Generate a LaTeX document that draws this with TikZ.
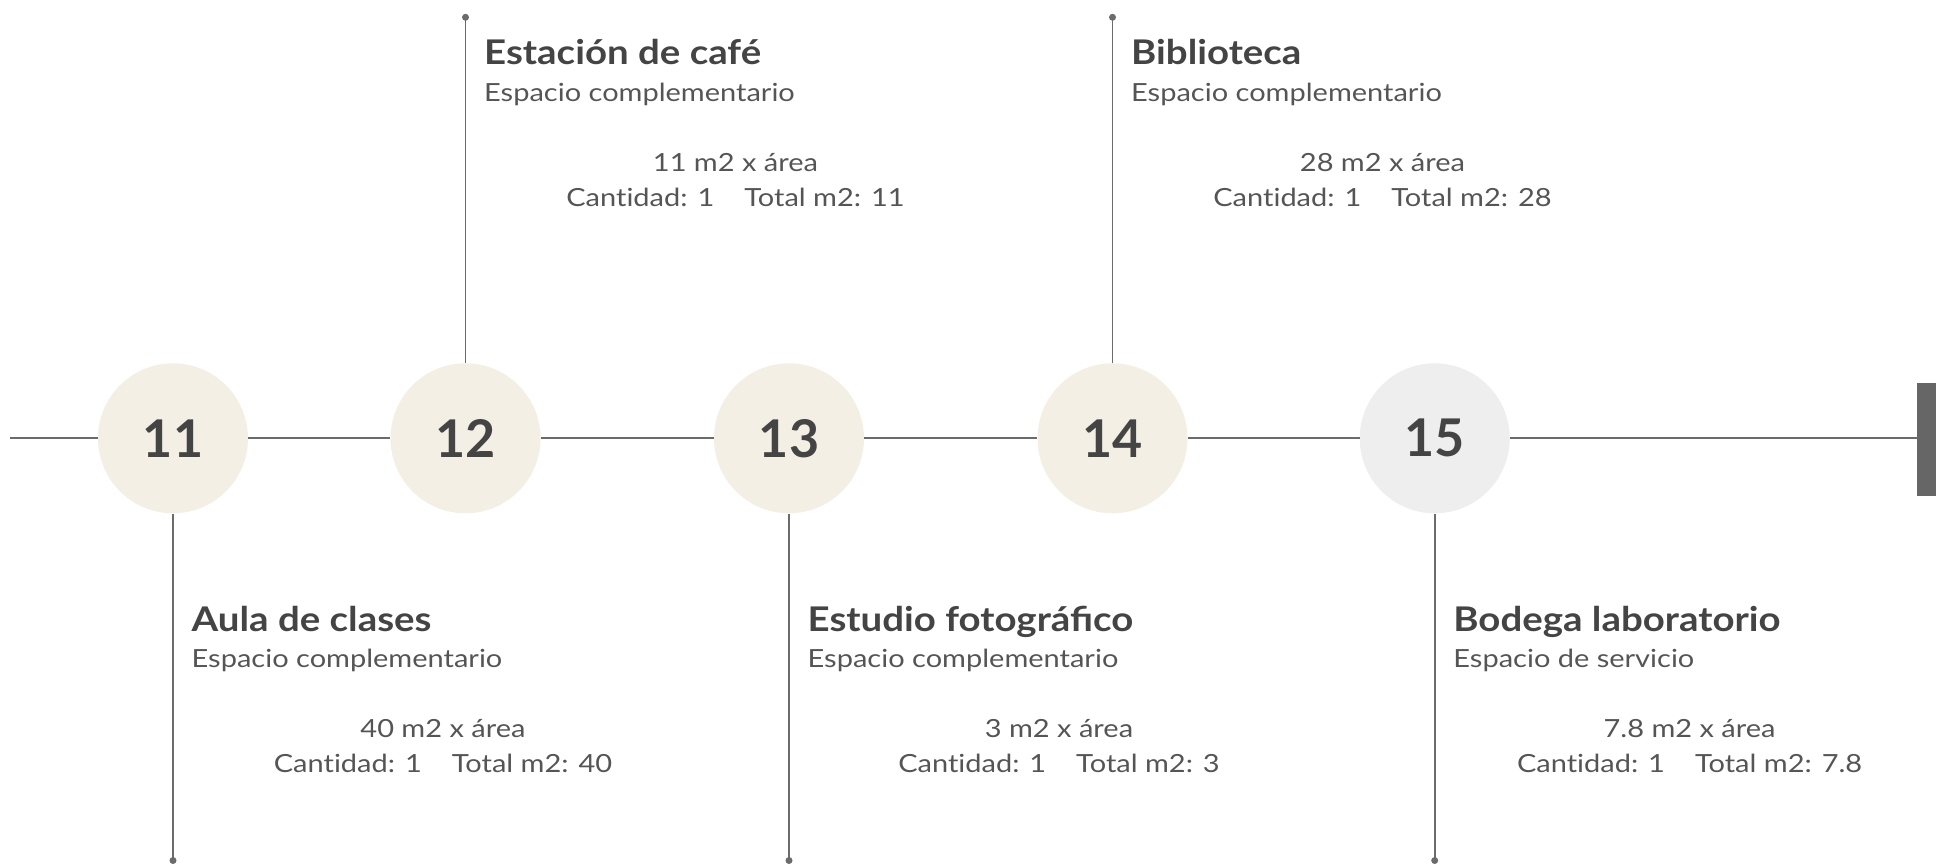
\documentclass[tikz,border=0pt]{standalone}
\usepackage{fontspec}
\setmainfont{Lato}[FakeStretch=1.16, Ligatures=NoCommon]
\newfontfamily\ttlfont{Lato}[FakeStretch=1.13]
\newfontfamily\numfont{Lato}
\definecolor{linec}{HTML}{6B6B6B}
\definecolor{beige}{HTML}{F3EFE5}
\definecolor{grayc}{HTML}{EEEEEE}
\definecolor{txt}{HTML}{444444}
\definecolor{subc}{HTML}{555555}
\definecolor{barc}{HTML}{666666}
\begin{document}
\begin{tikzpicture}[x=1pt,y=-1pt,
  circ/.style={circle, minimum size=150pt, inner sep=0pt, font=\numfont\fontsize{52}{52}\selectfont\bfseries, text=txt},
  conn/.style={draw=linec, line width=1.8pt},
  dotc/.style={circle, fill=linec, inner sep=0pt, minimum size=7pt},
  ttl/.style={anchor=base west, inner sep=0pt, font=\ttlfont\fontsize{34}{34}\selectfont\bfseries, text=txt},
  subt/.style={anchor=base west, inner sep=0pt, font=\fontsize{25}{25}\selectfont, text=subc},
  numl/.style={anchor=base, inner sep=0pt, font=\fontsize{25}{25}\selectfont, text=subc}]
\useasboundingbox (0,0) rectangle (1936,867);
% circles
\node[circ, fill=beige] (c11) at (173,438.3) {11};
\node[circ, fill=beige] (c12) at (465.5,438.3) {12};
\node[circ, fill=beige] (c13) at (789,438.3) {13};
\node[circ, fill=beige] (c14) at (1112.5,438.3) {14};
\node[circ, fill=grayc] (c15) at (1434.7,438.3) {15};
\coordinate (start) at (10,438.3);
\node[fill=barc, minimum width=19pt, minimum height=113pt, inner sep=0pt, anchor=north west] (bar) at (1917,383) {};
% timeline
\draw[conn] (start) -- (c11.west);
\draw[conn] (c11) -- (c12);
\draw[conn] (c12) -- (c13);
\draw[conn] (c13) -- (c14);
\draw[conn] (c14) -- (c15);
\draw[conn] (c15.east) -- (c15.east -| bar.west);
% dots
\node[dotc] (d11) at (173,860.5) {};
\node[dotc] (d12) at (465.5,17.3) {};
\node[dotc] (d13) at (789,860.5) {};
\node[dotc] (d14) at (1112.5,17.3) {};
\node[dotc] (d15) at (1434.7,860.5) {};
\draw[conn] (c11) -- (d11.center);
\draw[conn] (c12) -- (d12.center);
\draw[conn] (c13) -- (d13.center);
\draw[conn] (c14) -- (d14.center);
\draw[conn] (c15) -- (d15.center);
% texts bottom
\node[ttl] (t11) at (191.5,631) {Aula de clases};
\node[subt] (s11) at (191.5,667) {Espacio complementario};
\node[numl] (a11) at (443,737) {40 m2 x área};
\node[numl] (q11) at (443,772) {Cantidad: 1\hspace{30pt}Total m2: 40};
\node[ttl] (t13) at (807.5,631) {Estudio fotográfico};
\node[subt] (s13) at (807.5,667) {Espacio complementario};
\node[numl] (a13) at (1059,737) {3 m2 x área};
\node[numl] (q13) at (1059,772) {Cantidad: 1\hspace{30pt}Total m2: 3};
\node[ttl] (t15) at (1453.2,631) {Bodega laboratorio};
\node[subt] (s15) at (1453.2,667) {Espacio de servicio};
\node[numl] (a15) at (1689.6,737) {7.8 m2 x área};
\node[numl] (q15) at (1689.6,772) {Cantidad: 1\hspace{30pt}Total m2: 7.8};
% texts top
\node[ttl] (t12) at (484,65) {Estación de café};
\node[subt] (s12) at (484,101) {Espacio complementario};
\node[numl] (a12) at (735.5,171) {11 m2 x área};
\node[numl] (q12) at (735.5,206) {Cantidad: 1\hspace{30pt}Total m2: 11};
\node[ttl] (t14) at (1131,65) {Biblioteca};
\node[subt] (s14) at (1131,101) {Espacio complementario};
\node[numl] (a14) at (1382.5,171) {28 m2 x área};
\node[numl] (q14) at (1382.5,206) {Cantidad: 1\hspace{30pt}Total m2: 28};
\end{tikzpicture}
\end{document}
